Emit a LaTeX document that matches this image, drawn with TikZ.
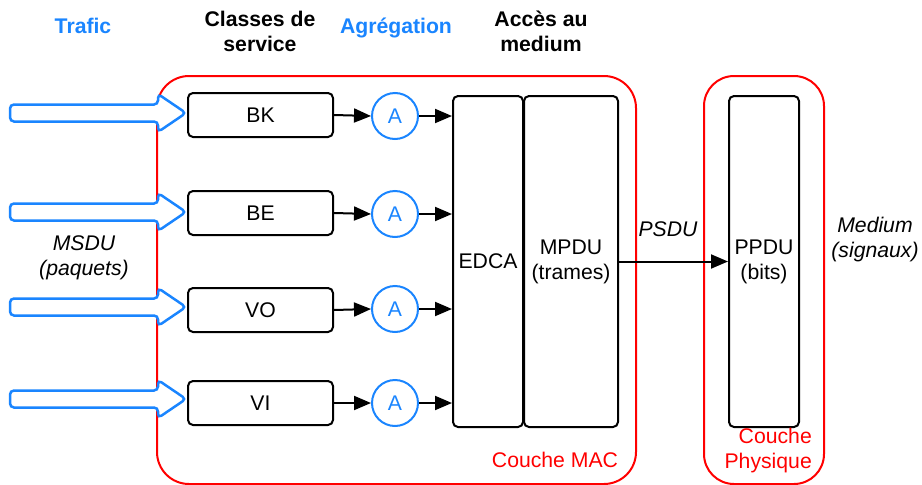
\documentclass[tikz,border=0pt]{standalone}
\usepackage{fontspec}
\setmainfont{Liberation Sans}
\usetikzlibrary{arrows.meta}
\definecolor{myblue}{HTML}{1A85FF}
\definecolor{myred}{HTML}{FF0000}
\begin{document}
\begin{tikzpicture}[x=1pt,y=-1pt,
  every node/.style={font=\fontsize{21.2}{25}\selectfont, inner sep=0pt, align=center},
  box/.style={draw, line width=2pt, rounded corners=5pt, minimum width=145pt, minimum height=44pt},
  tall/.style={draw, line width=2pt, rounded corners=5pt, minimum height=331pt},
  layer/.style={draw=myred, line width=2pt, rounded corners=32pt, minimum height=408pt},
  agg/.style={draw=myblue, text=myblue, circle, line width=2pt, minimum size=46pt},
  arr/.style={line width=2pt, -{Triangle[length=17pt,width=14pt]}},
  blk/.style={draw=myblue, line width=2.5pt, rounded corners=4pt, fill=white},
  head/.style={font=\bfseries\fontsize{21.2}{25}\selectfont},
  itl/.style={font=\itshape\fontsize{21.2}{25}\selectfont},
  redlbl/.style={text=myred},
  ]
\useasboundingbox (0,0) rectangle (922,485);
% layers
\node[layer, minimum width=479pt] (mac) at (396.5,280) {};
\node[layer, minimum width=120pt, rounded corners=30pt] (phy) at (764,280) {};
% block arrows
\foreach \c in {113,212,307,399}{
  \draw[blk] (10,\c-8.5) -- (158,\c-8.5) -- (158,\c-19) -- (186,\c) -- (158,\c+19) -- (158,\c+8.5) -- (10,\c+8.5) -- cycle;
}
% class boxes
\node[box] (bk) at (260.5,115) {BK};
\node[box] (be) at (260.5,213) {BE};
\node[box] (vo) at (260.5,310) {VO};
\node[box] (vi) at (260.5,403) {VI};
% aggregation circles
\node[agg] (a1) at (395,116) {A};
\node[agg] (a2) at (395,214) {A};
\node[agg] (a3) at (395,309) {A};
\node[agg] (a4) at (395,403) {A};
% tall boxes
\node[tall, minimum width=70pt] (edca) at (488,261.5) {EDCA};
\node[tall, minimum width=94pt] (mpdu) at (571,261.5) {MPDU\\(trames)};
\node[tall, minimum width=70pt] (ppdu) at (764,261.5) {PPDU\\(bits)};
% arrows
\foreach \b/\a in {bk/a1,be/a2,vo/a3,vi/a4}{
  \draw[arr] (\b.east) -- (\a.west);
  \draw[arr] (\a.east) -- (\a.east -| edca.west);
}
\draw[arr] (mpdu.east) -- (ppdu.west);
% headings
\node[head, text=myblue, anchor=base] (t1) at (83,33.5) {Trafic};
\node[head] (t2) at (260,31) {Classes de\\service};
\node[head, text=myblue, anchor=base] (t3) at (396,33.5) {Agrégation};
\node[head] (t4) at (541,31) {Accès au\\medium};
% side labels
\node[itl] (msdu) at (84,258) {MSDU\\(paquets)};
\node[itl] (psdu) at (668,229) {PSDU};
\node[itl] (med) at (875,240) {Medium\\(signaux)};
\node[redlbl] (lmac) at (555,460) {Couche MAC};
\node[redlbl, align=right, anchor=east] (lphy) at (812,451) {Couche\\Physique};
\end{tikzpicture}
\end{document}
